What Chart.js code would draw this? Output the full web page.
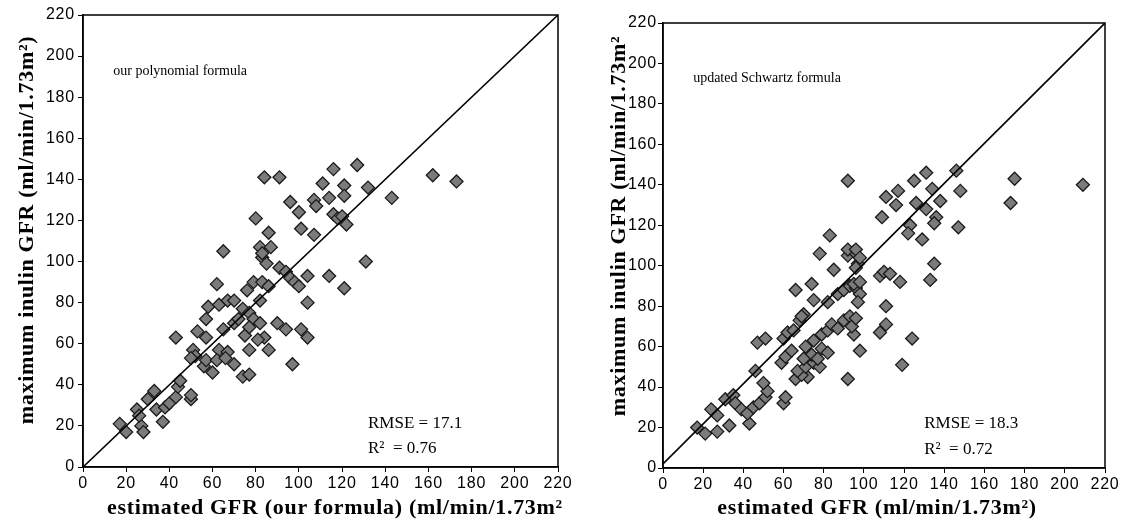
<!DOCTYPE html>
<html><head><meta charset="utf-8">
<script src="https://cdn.jsdelivr.net/npm/chart.js@4.4.0/dist/chart.umd.min.js"></script>
<style>
html,body{margin:0;padding:0;background:#fff;width:1122px;height:528px;overflow:hidden;}
#c1{position:absolute;left:0;top:0;}
#c2{position:absolute;left:575px;top:0;}
</style></head><body>
<canvas id="c1" width="575" height="528"></canvas>
<canvas id="c2" width="547" height="528"></canvas>
<script>
// ---------- data ----------
const axisMin = 0, axisMax = 220, axisStep = 20;

const leftEstimated = [84,91,116,127,111,121,121,114,96,107,108,100,116,118,120,122,101,107,86,65,
  82,87,83,85,83,91,94,96,98,100,104,114,121,62,76,79,83,86,131,132,143,162,173,80,
  17,20,27,28,37,25,26,30,33,34,38,40,43,44,45,50,50,
  43,57,58,63,67,70,53,57,51,52,50,56,60,57,63,67,70,62,66,
  65,70,72,74,77,79,82,84,81,77,75,77,74,77,86,90,94,97,101,104,104,82];
const leftMeasured = [141,141,145,147,138,137,132,131,129,130,127,124,123,121,122,118,116,113,114,105,
  107,107,102,99,104,97,95,92,90,88,93,93,87,89,86,90,90,88,100,136,131,142,139,121,
  21,17,20,17,22,28,25,33,37,28,29,31,34,39,42,33,35,
  63,72,78,79,81,81,66,63,57,54,53,49,46,52,57,56,50,52,53,
  67,70,72,77,75,72,70,63,62,57,64,68,44,45,57,70,67,50,67,63,80,81];

const rightEstimated = [17,21,24,27,27,33,43,31,35,36,39,42,45,48,51,52,50,46,60,61,
  47,51,60,62,65,59,61,64,66,72,69,67,71,75,78,
  71,75,79,82,79,82,84,87,90,93,74,77,70,68,70,69,75,82,66,74,
  87,90,93,96,98,95,98,97,92,111,108,111,119,124,94,96,
  78,85,83,92,95,97,96,92,96,98,108,110,113,118,133,135,95,98,
  92,111,117,116,125,131,126,131,109,123,122,129,134,138,148,146,136,135,147,175,173,209];
const rightMeasured = [20,17,29,26,18,21,22,34,36,32,29,27,30,32,35,38,42,48,32,35,
  62,64,64,67,68,52,55,58,44,45,46,48,50,52,50,
  60,63,59,57,66,68,71,69,73,75,56,54,54,73,76,75,83,82,88,91,
  86,88,90,89,86,66,58,82,44,80,67,71,51,64,70,74,
  106,98,115,105,107,101,99,108,108,104,95,97,96,92,93,101,91,92,
  142,134,137,130,142,146,131,128,124,120,116,113,138,132,137,147,124,121,119,143,131,140];

const identityX = [0, 220];
const leftIdentityY = [0, 220];
const rightIdentityY = [2, 220];

const leftYTitle = 'maximum inulin GFR (ml/min/1.73m\u00B2)';
const leftXTitle = 'estimated GFR (our formula) (ml/min/1.73m\u00B2';
const rightYTitle = 'maximum inulin GFR (ml/min/1.73m\u00B2';
const rightXTitle = 'estimated GFR (ml/min/1.73m\u00B2)';
const leftFormula = 'our polynomial formula';
const rightFormula = 'updated Schwartz formula';
const leftStats = ['RMSE = 17.1', 'R\u00B2  = 0.76'];
const rightStats = ['RMSE = 18.3', 'R\u00B2  = 0.72'];

// ---------- drawing ----------
const SERIF = '"Liberation Serif","Times New Roman",serif';
const SANS = '"Liberation Sans",Arial,sans-serif';
const TITLE_FONT = 'bold 22px ' + SERIF;

const spacingPlugin = {
  id: 'spacing',
  beforeDraw(chart) { chart.ctx.letterSpacing = '0.8px'; },
  afterDraw(chart) { chart.ctx.letterSpacing = '0px'; }
};

const framePlugin = {
  id: 'frame',
  afterDatasetsDraw(chart) {
    const {ctx, chartArea: a} = chart;
    ctx.save();
    ctx.strokeStyle = '#000';
    ctx.lineWidth = 1.5;
    ctx.strokeRect(a.left, a.top, a.right - a.left, a.bottom - a.top);
    ctx.restore();
  }
};

const notesPlugin = {
  id: 'notes',
  afterDatasetsDraw(chart, args, opts) {
    const {ctx, scales} = chart;
    ctx.save();
    ctx.fillStyle = '#000';
    ctx.letterSpacing = '0px';
    ctx.textBaseline = 'alphabetic';
    ctx.textAlign = 'left';
    (opts.items || []).forEach(it => {
      ctx.font = it.font;
      ctx.fillText(it.text, scales.x.getPixelForValue(it.x), scales.y.getPixelForValue(it.y));
    });
    // axis titles
    const t = opts.titles;
    ctx.font = TITLE_FONT;
    ctx.letterSpacing = '0.7px';
    ctx.textAlign = 'center';
    ctx.textBaseline = 'middle';
    ctx.fillText(t.x, t.xPos[0], t.xPos[1]);
    ctx.translate(t.yPos[0], t.yPos[1]);
    ctx.rotate(-Math.PI / 2);
    ctx.fillText(t.y, 0, 0);
    ctx.restore();
  }
};

function pts(xs, ys) { return xs.map((x, i) => ({x: x, y: ys[i]})); }

function makePanel(id, est, meas, lineY, lay, titles, notes) {
  const tickFont = {family: SANS, size: 16};
  new Chart(document.getElementById(id), {
    type: 'scatter',
    data: {
      datasets: [
        { data: pts(identityX, lineY), showLine: true, borderColor: '#000', borderWidth: 1.6,
          pointRadius: 0, fill: false },
        { data: pts(est, meas), pointStyle: 'rectRot', pointRadius: 6.5,
          backgroundColor: '#7b7b7b', borderColor: '#1a1a1a', borderWidth: 1.3 }
      ]
    },
    options: {
      responsive: false, animation: false, devicePixelRatio: 1,
      layout: { padding: { left: 0, right: lay.padR, top: lay.padT, bottom: 0 } },
      plugins: { legend: {display: false}, tooltip: {enabled: false},
                 notes: {items: notes, titles: titles} },
      scales: {
        x: {
          type: 'linear', min: axisMin, max: axisMax,
          afterFit: s => { s.height = lay.xH; },
          ticks: { stepSize: axisStep, color: '#000', font: tickFont, padding: 2, maxRotation: 0, autoSkip: false },
          grid: { drawOnChartArea: false, tickLength: 5, color: '#000', lineWidth: 1 },
          border: { color: '#000', width: 1.5 }
        },
        y: {
          type: 'linear', min: axisMin, max: axisMax,
          afterFit: s => { s.width = lay.yW; },
          ticks: { stepSize: axisStep, color: '#000', font: tickFont, padding: lay.yPad, autoSkip: false },
          grid: { drawOnChartArea: false, tickLength: 5, color: '#000', lineWidth: 1 },
          border: { color: '#000', width: 1.5 }
        }
      }
    },
    plugins: [spacingPlugin, framePlugin, notesPlugin]
  });
}

makePanel('c1', leftEstimated, leftMeasured, leftIdentityY,
  {padR: 17, padT: 15, xH: 61, yW: 83, yPad: 3},
  {x: leftXTitle, y: leftYTitle, xPos: [335, 508], yPos: [27, 230]},
  [
    {text: leftFormula, x: 14, y: 191, font: '14px ' + SERIF},
    {text: leftStats[0], x: 132, y: 19, font: '17px ' + SERIF},
    {text: leftStats[1], x: 132, y: 7, font: '17px ' + SERIF}
  ]);

makePanel('c2', rightEstimated, rightMeasured, rightIdentityY,
  {padR: 17, padT: 23, xH: 60, yW: 88, yPad: 1},
  {x: rightXTitle, y: rightYTitle, xPos: [302, 508], yPos: [44, 226]},
  [
    {text: rightFormula, x: 15, y: 191, font: '14px ' + SERIF},
    {text: rightStats[0], x: 130, y: 20, font: '17px ' + SERIF},
    {text: rightStats[1], x: 130, y: 7, font: '17px ' + SERIF}
  ]);
</script>
</body></html>
